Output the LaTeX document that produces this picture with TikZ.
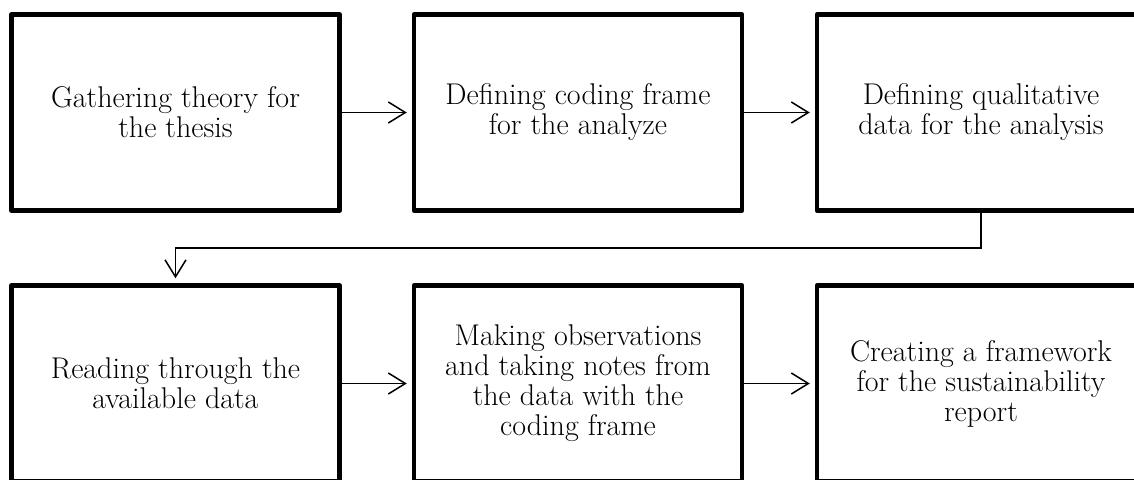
\documentclass[tikz,border=0pt]{standalone}
\usepackage{fontspec}
\usetikzlibrary{arrows.meta,calc}

\tikzset{
  stepbox/.style={draw, line width=4.5pt, line join=round,
    minimum width=328pt, minimum height=196pt, inner sep=0pt,
    align=center, font=\fontsize{30pt}{30pt}\selectfont},
  flow/.style={line width=1.5pt,
    -{Straight Barb[length=17pt,width=21pt,line width=1.5pt]},
    shorten >=5pt},
}

\begin{document}
\begin{tikzpicture}[x=1pt, y=-1pt]
  \useasboundingbox (0,0) rectangle (1134,479);
  \clip (0,0) rectangle (1134,479);

  % first row of steps
  \node[stepbox] (b1) at (175.5,112.5) {Gathering theory for\\the thesis};
  \node[stepbox] (b2) at (578,112.5)   {Defining coding frame\\for the analyze};
  \node[stepbox] (b3) at (981,112.5)   {Defining qualitative\\data for the analysis};

  % second row of steps
  \node[stepbox] (b4) at (175.5,383.5) {Reading through the\\available data};
  \node[stepbox] (b5) at (578,383.5)   {Making observations\\and taking notes from\\the data with the\\coding frame};
  \node[stepbox] (b6) at (981,383.5)   {Creating a framework\\for the sustainability\\report};

  % connectors
  \draw[flow] (b1) -- (b2);
  \draw[flow] (b2) -- (b3);
  \coordinate (m) at ($(b3.south)!0.5!(b4.north)$);
  \draw[flow] (b3.south) -- (b3.south |- m) -| (b4.north);
  \draw[flow] (b4) -- (b5);
  \draw[flow] (b5) -- (b6);
\end{tikzpicture}
\end{document}
